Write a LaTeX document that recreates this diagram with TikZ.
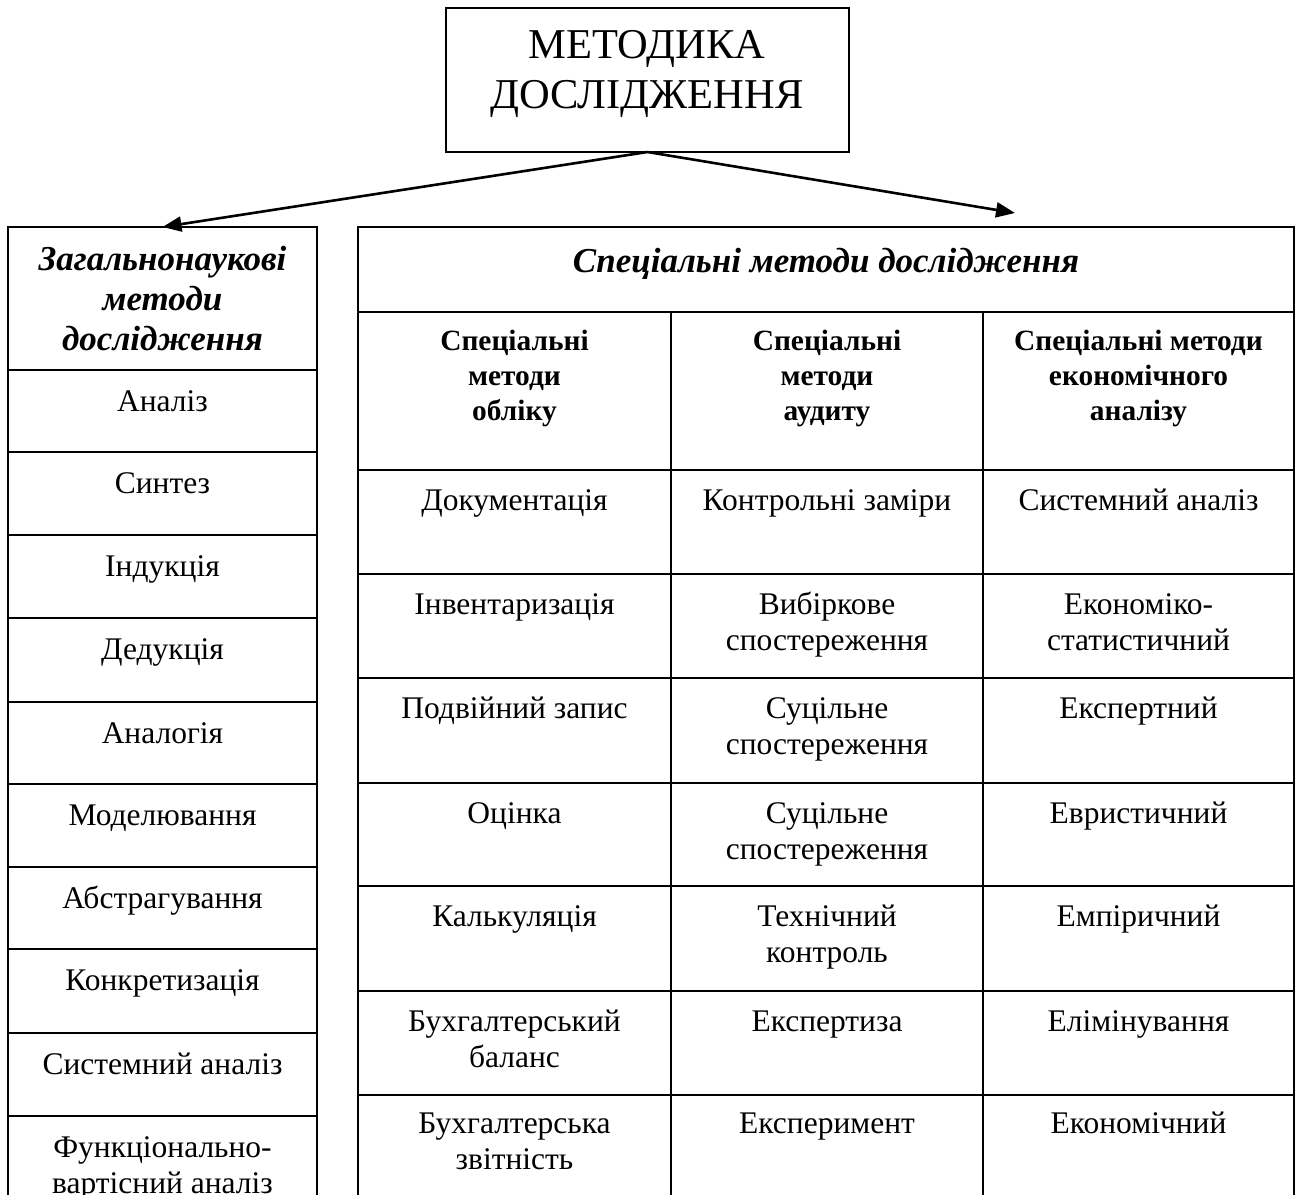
\documentclass[tikz,border=0pt]{standalone}
\usepackage{fontspec}
\setmainfont{Liberation Serif}
\usetikzlibrary{arrows.meta,fit}
\begin{document}
\begin{tikzpicture}[x=1pt,y=-1pt,
  cell/.style={draw, line width=1.8pt, inner sep=0pt, outer sep=0pt},
  body/.style={font=\fontsize{31.5}{36}\selectfont, align=center, anchor=base, inner sep=0pt},
  hd/.style={font=\bfseries\fontsize{29.4}{35}\selectfont, align=center, anchor=base, inner sep=0pt},
  bi/.style={font=\bfseries\itshape\fontsize{35}{40}\selectfont, align=center, anchor=base, inner sep=0pt},
  ttl/.style={font=\fontsize{42.5}{50}\selectfont, align=center, anchor=base, inner sep=0pt},
  conn/.style={line width=2.6pt, -{Triangle[length=19pt,width=15pt]}}]
\useasboundingbox (0,0) rectangle (1300,1194);
% top box
\node[cell, fit={(446,8)(849,152)}] (top) {};
\node[ttl] (topt) at (647,108) {МЕТОДИКА\\ДОСЛІДЖЕННЯ};
% left column
\node[cell, fit={(8,227)(317,370)}] (lh) {};
\node[bi] (lht) at (162.5,350) {Загальнонаукові\\методи\\дослідження};
\foreach \n/\t/\b in {l1/370/452, l2/452/535, l3/535/618, l4/618/702, l5/702/784,
  l6/784/867, l7/867/949, l8/949/1033, l9/1033/1116, l10/1116/1215}
  \node[cell, fit={(8,\t)(317,\b)}] (\n) {};
\node[body] (l1t) at (162.5,411) {Аналіз};
\node[body] (l2t) at (162.5,493) {Синтез};
\node[body] (l3t) at (162.5,576) {Індукція};
\node[body] (l4t) at (162.5,659) {Дедукція};
\node[body] (l5t) at (162.5,743) {Аналогія};
\node[body] (l6t) at (162.5,825) {Моделювання};
\node[body] (l7t) at (162.5,908) {Абстрагування};
\node[body] (l8t) at (162.5,990) {Конкретизація};
\node[body] (l9t) at (162.5,1074) {Системний аналіз};
\node[body] (l10t) at (162.5,1193) {Функціонально-\\вартісний аналіз};
% right table
\node[cell, fit={(358,227)(1294,312)}] (rh) {};
\node[bi] (rht) at (826,272) {Спеціальні методи дослідження};
\foreach \c/\xa/\xb in {a/358/671, b/671/983, c/983/1294}{
  \node[cell, fit={(\xa,312)(\xb,470)}] (h\c) {};
  \foreach \r/\t/\b in {1/470/574, 2/574/678, 3/678/783, 4/783/886, 5/886/991, 6/991/1095, 7/1095/1215}
    \node[cell, fit={(\xa,\t)(\xb,\b)}] (\c\r) {};
}
\node[hd] (hat) at (514.5,420) {Спеціальні\\методи\\обліку};
\node[hd] (hbt) at (827,420) {Спеціальні\\методи\\аудиту};
\node[hd] (hct) at (1138.5,420) {Спеціальні методи\\економічного\\аналізу};
% column 1
\node[body] (a1t) at (514.5,510) {Документація};
\node[body] (a2t) at (514.5,614) {Інвентаризація};
\node[body] (a3t) at (514.5,718) {Подвійний запис};
\node[body] (a4t) at (514.5,823) {Оцінка};
\node[body] (a5t) at (514.5,926) {Калькуляція};
\node[body] (a6t) at (514.5,1067) {Бухгалтерський\\баланс};
\node[body] (a7t) at (514.5,1169) {Бухгалтерська\\звітність};
% column 2
\node[body] (b1t) at (827,510) {Контрольні заміри};
\node[body] (b2t) at (827,650) {Вибіркове\\спостереження};
\node[body] (b3t) at (827,754) {Суцільне\\спостереження};
\node[body] (b4t) at (827,859) {Суцільне\\спостереження};
\node[body] (b5t) at (827,962) {Технічний\\контроль};
\node[body] (b6t) at (827,1031) {Експертиза};
\node[body] (b7t) at (827,1133) {Експеримент};
% column 3
\node[body] (c1t) at (1138.5,510) {Системний аналіз};
\node[body] (c2t) at (1138.5,650) {Економіко-\\статистичний};
\node[body] (c3t) at (1138.5,718) {Експертний};
\node[body] (c4t) at (1138.5,823) {Евристичний};
\node[body] (c5t) at (1138.5,926) {Емпіричний};
\node[body] (c6t) at (1138.5,1031) {Елімінування};
\node[body] (c7t) at (1138.5,1133) {Економічний};
% connectors
\coordinate (rtip) at (1015,213);
\draw[conn] (top.south) -- (lh.north);
\draw[conn] (top.south) -- (rtip);
\end{tikzpicture}
\end{document}
